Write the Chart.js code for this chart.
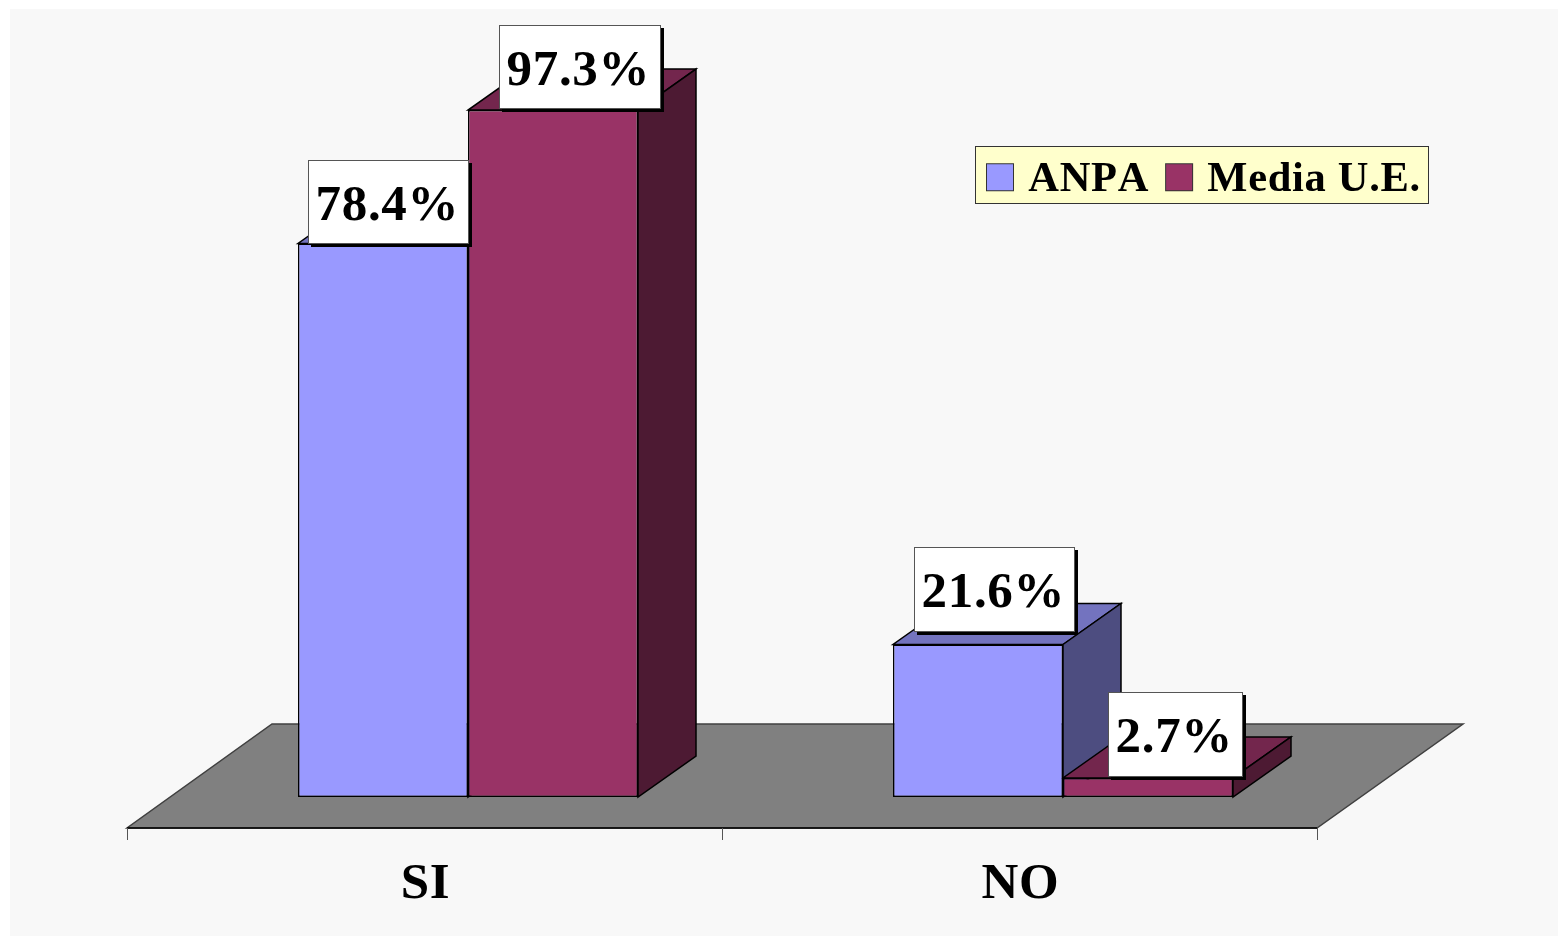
<!DOCTYPE html>
<html>
<head>
<meta charset="utf-8">
<style>
html,body{margin:0;padding:0;background:#fff;overflow:hidden}
canvas{display:block}
</style>
<script src="https://cdn.jsdelivr.net/npm/chart.js@4/dist/chart.umd.min.js"></script>
</head>
<body>
<canvas id="c" width="1558" height="936"></canvas>
<script>
const categories = ['SI', 'NO'];
const seriesNames = ['ANPA', 'Media U.E.'];
const anpaValues = [78.4, 21.6];
const mediaValues = [97.3, 2.7];

const FONT = '"Liberation Serif","Times New Roman",serif';
const PXU = 7.06, BASE = 797, AXIS_Y = 828, TOP = 9;
const SHIFT = 43.5, DX = 58, DY = -41;
const FLOOR_BACK = 104;
const PANEL = {left: 975, top: 146, right: 1428, bottom: 203};
const faces = [
  {front:'#9999FF', top:'#7373BF', side:'#4D4D80', edge:'#000000'},
  {front:'#993366', top:'#73264D', side:'#4D1A33', edge:'#000000'}
];
// placement of each value box relative to its bar: [dataset][category] => [left offset from bar left, top offset from bar top, width, height]
const boxes = [
  [[10, -83, 161, 84], [20.5, -98, 161, 85]],
  [[31, -85, 162, 84], [45, -86, 135, 85]]
];

function poly(ctx, pts, fill, stroke) {
  ctx.beginPath();
  pts.forEach((p, i) => i ? ctx.lineTo(p[0], p[1]) : ctx.moveTo(p[0], p[1]));
  ctx.closePath();
  ctx.fillStyle = fill;
  ctx.fill();
  ctx.lineWidth = 1.5;
  ctx.strokeStyle = stroke;
  ctx.stroke();
}

function swatch(color) {
  const cv = document.createElement('canvas');
  cv.width = 30; cv.height = 36;
  const g = cv.getContext('2d');
  g.fillStyle = color;
  g.fillRect(1, 1, 28, 28);
  g.strokeStyle = '#333333';
  g.lineWidth = 1;
  g.strokeRect(1.5, 1.5, 27, 27);
  return cv;
}

function textState(ctx) {
  ctx.fontKerning = 'none';
  ctx.letterSpacing = '0.7px';
}

const scene = {
  id: 'scene',
  beforeLayout(chart) {
    textState(chart.ctx);
    chart.legend.isHorizontal = () => true;
  },
  beforeDraw(chart) {
    const {ctx, width, height, chartArea: a} = chart;
    textState(ctx);
    ctx.save();
    ctx.fillStyle = '#ffffff';
    ctx.fillRect(0, 0, width, height);
    ctx.fillStyle = '#F8F8F8';
    ctx.fillRect(10, TOP, width - 10, height - TOP);
    // legend panel
    ctx.fillStyle = '#FFFFCC';
    ctx.strokeStyle = '#333333';
    ctx.lineWidth = 1;
    ctx.fillRect(PANEL.left, PANEL.top, PANEL.right - PANEL.left, PANEL.bottom - PANEL.top);
    ctx.strokeRect(PANEL.left + .5, PANEL.top + .5, PANEL.right - PANEL.left, PANEL.bottom - PANEL.top);
    // floor
    const y = AXIS_Y;
    poly(ctx, [[a.left, y], [a.right, y], [a.right + 146, y - FLOOR_BACK], [a.left + 145, y - FLOOR_BACK]], '#808080', '#404040');
    ctx.beginPath();
    ctx.moveTo(a.left, y);
    ctx.lineTo(a.right, y);
    ctx.strokeStyle = '#000000';
    ctx.lineWidth = 1.5;
    ctx.stroke();
    ctx.restore();
  },
  beforeDatasetsDraw(chart) {
    const {ctx} = chart;
    ctx.save();
    ctx.translate(SHIFT, 0);
    chart.data.datasets.forEach((ds, di) => {
      const f = faces[di];
      chart.getDatasetMeta(di).data.forEach(bar => {
        const l = bar.x - bar.width / 2, r = bar.x + bar.width / 2, t = bar.y, b = bar.base;
        poly(ctx, [[l, t], [r, t], [r + DX, t + DY], [l + DX, t + DY]], f.top, f.edge);
        poly(ctx, [[r, t], [r + DX, t + DY], [r + DX, b + DY], [r, b]], f.side, f.edge);
      });
    });
  },
  afterDatasetsDraw(chart) {
    const {ctx} = chart;
    ctx.restore();
    ctx.save();
    chart.data.datasets.forEach((ds, di) => {
      chart.getDatasetMeta(di).data.forEach((bar, i) => {
        const l = bar.x + SHIFT - bar.width / 2, t = bar.y;
        const [ox, oy, w, h] = boxes[di][i];
        const x = Math.round(l + ox), y = Math.round(t + oy);
        ctx.fillStyle = '#000000';
        ctx.fillRect(x + 3, y + 3, w, h);
        ctx.fillStyle = '#ffffff';
        ctx.fillRect(x, y, w, h);
        ctx.strokeStyle = '#555555';
        ctx.lineWidth = 1;
        ctx.strokeRect(x + .5, y + .5, w - 1, h - 1);
        ctx.fillStyle = '#000000';
        ctx.font = 'bold 51px ' + FONT;
        ctx.textAlign = 'left';
        ctx.textBaseline = 'alphabetic';
        ctx.fillText(ds.data[i].toFixed(1) + '%', x + 7.5, y + 60);
      });
    });
    ctx.restore();
  },
  afterLayout(chart) {
    const lg = chart.legend;
    lg.left = 970; lg.right = 1520; lg.top = 136; lg.bottom = 203;
    lg.width = 550; lg.height = 67;
  }
};

Chart.defaults.font.family = FONT;
new Chart(document.getElementById('c'), {
  type: 'bar',
  data: {
    labels: categories,
    datasets: [
      {label: seriesNames[0], data: anpaValues, backgroundColor: faces[0].front, borderColor: faces[0].edge, borderWidth: 1.5, borderSkipped: false},
      {label: seriesNames[1], data: mediaValues, backgroundColor: faces[1].front, borderColor: faces[1].edge, borderWidth: 1.5, borderSkipped: false}
    ]
  },
  options: {
    responsive: false,
    animation: false,
    devicePixelRatio: 1,
    layout: {padding: {left: 127, right: 241, top: 0, bottom: 0}},
    datasets: {bar: {categoryPercentage: 340 / 595, barPercentage: 1}},
    scales: {
      x: {
        position: 'bottom',
        offset: true,
        border: {display: false},
        grid: {display: true, drawOnChartArea: false, drawTicks: true, tickLength: 12, tickColor: '#555555', offset: true, lineWidth: 1},
        ticks: {color: '#000000', font: {size: 51, weight: 'bold', family: FONT}, maxRotation: 0, padding: 14, labelOffset: 1},
        afterFit(s) { s.height = 936 - AXIS_Y; }
      },
      y: {
        display: false,
        min: (BASE - AXIS_Y) / PXU,
        max: BASE / PXU,
        grid: {display: false}
      }
    },
    plugins: {
      tooltip: {enabled: false},
      legend: {
        position: 'chartArea',
        align: 'start',
        labels: {
          usePointStyle: true, pointStyleWidth: 14, boxHeight: 28, padding: 23, color: '#000000',
          font: {size: 42.5, weight: 'bold', family: FONT},
          generateLabels(chart) {
            return Chart.defaults.plugins.legend.labels.generateLabels(chart).map((it, i) =>
              Object.assign(it, {pointStyle: swatch(faces[i].front)}));
          }
        }
      }
    }
  },
  plugins: [scene]
});
</script>
</body>
</html>
